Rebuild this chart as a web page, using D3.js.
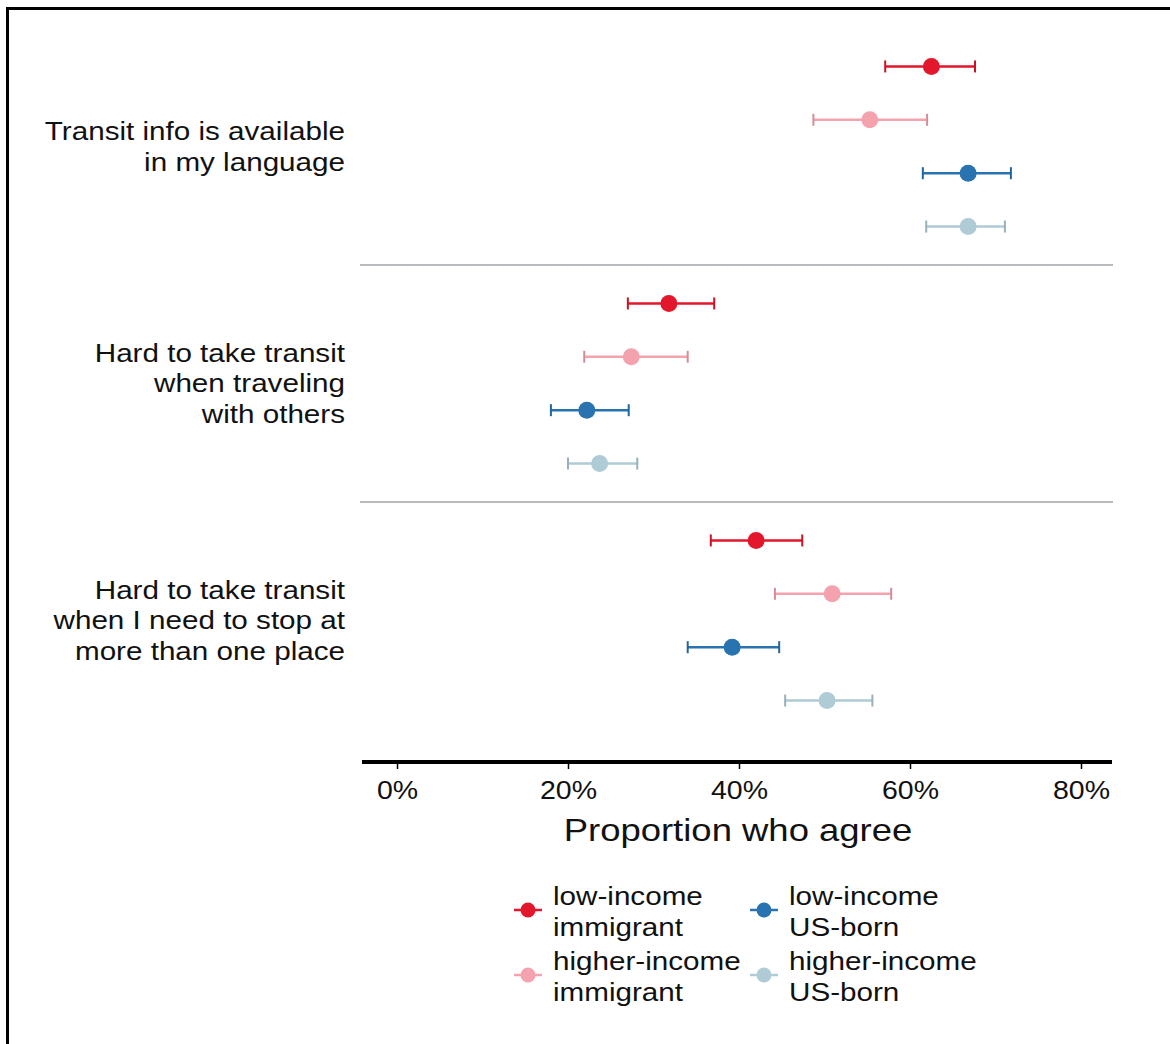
<!DOCTYPE html>
<html><head><meta charset="utf-8">
<script src="https://cdn.jsdelivr.net/npm/d3@7"></script>
<style>html,body{margin:0;padding:0;background:#fff;}svg{display:block;}</style>
</head><body>
<svg id="chart" width="1170" height="1044"></svg>
<script>
const questions = [
  ["Transit info is available", "in my language"],
  ["Hard to take transit", "when traveling", "with others"],
  ["Hard to take transit", "when I need to stop at", "more than one place"]
];
const groups = ["low-income immigrant", "higher-income immigrant", "low-income US-born", "higher-income US-born"];
const groupLabels = [["low-income","immigrant"],["higher-income","immigrant"],["low-income","US-born"],["higher-income","US-born"]];
const colors = ["#e3172b", "#f4a3ae", "#2873b0", "#aecbd6"];
// estimates (%) per question, per group
const estimate = [
  [62.5, 55.3, 66.8, 66.8],
  [31.8, 27.4, 22.2, 23.7],
  [42.0, 50.9, 39.2, 50.3]
];
const lower = [
  [57.1, 48.7, 61.5, 61.9],
  [27.0, 21.9, 18.0, 20.0],
  [36.7, 44.2, 34.0, 45.4]
];
const upper = [
  [67.6, 62.0, 71.8, 71.1],
  [37.1, 34.0, 27.1, 28.1],
  [47.4, 57.8, 44.7, 55.6]
];
const xTicks = [0, 20, 40, 60, 80];

const svg = d3.select("#chart");
const font = "'Liberation Sans', Arial, Helvetica, sans-serif";
const SX = 1.14; // horizontal stretch of text

function addText(parent, x, y, lines, size, anchor, lh) {
  const g = parent.append("g").attr("transform", `translate(${x},${y}) scale(${SX},1)`);
  const t = g.append("text").attr("text-anchor", anchor)
    .attr("font-family", font).attr("font-size", size).attr("fill", "#111");
  lines.forEach((line, li) => {
    t.append("tspan").attr("x", 0).attr("y", li * lh).text(line);
  });
  return g;
}

// frame
svg.append("rect").attr("x", 7.5).attr("y", 8.5).attr("width", 1200).attr("height", 1100)
  .attr("fill", "none").attr("stroke", "#000").attr("stroke-width", 3);

const x = d3.scaleLinear().domain([0, 80]).range([397, 1081]);
const qBand = d3.scaleBand().domain(d3.range(questions.length)).range([28, 739]).paddingInner(0);
const gPos = d3.scalePoint().domain(d3.range(groups.length)).range([0, qBand.bandwidth()]).padding(0.72);

// separators
for (let i = 1; i < questions.length; i++) {
  svg.append("line").attr("x1", 360).attr("x2", 1113)
    .attr("y1", qBand(i)).attr("y2", qBand(i))
    .attr("stroke", "#a0a4a8").attr("stroke-width", 1.5);
}

questions.forEach((q, qi) => {
  const g = svg.append("g").attr("transform", `translate(0,${qBand(qi)})`);
  const cy = (gPos(0) + gPos(groups.length - 1)) / 2;
  const lh = 31;
  addText(g, 345, cy - (q.length - 1) / 2 * lh + 9, q, 26, "end", lh);
  groups.forEach((grp, gi) => {
    const y = gPos(gi);
    const c = colors[gi];
    g.append("line").attr("x1", x(lower[qi][gi])).attr("x2", x(upper[qi][gi]))
      .attr("y1", y).attr("y2", y).attr("stroke", c).attr("stroke-width", 2.5);
    [lower[qi][gi], upper[qi][gi]].forEach(v => {
      g.append("line").attr("x1", x(v)).attr("x2", x(v)).attr("y1", y - 6).attr("y2", y + 6)
        .attr("stroke", d3.color(c).darker(0.4)).attr("stroke-width", 2);
    });
    g.append("circle").attr("cx", x(estimate[qi][gi])).attr("cy", y).attr("r", 8.5).attr("fill", c);
  });
});

// x axis
const axisY = 762;
const axis = svg.append("g").attr("transform", `translate(0,${axisY})`)
  .call(d3.axisBottom(x).tickValues(xTicks).tickFormat(d => d + "%").tickSize(7).tickSizeOuter(0));
axis.select(".domain").remove();
axis.selectAll(".tick line").attr("stroke", "#000").attr("stroke-width", 1.5);
axis.selectAll(".tick text")
  .attr("font-family", font).attr("font-size", 25).attr("fill", "#111")
  .attr("y", 0).attr("dy", 0)
  .attr("transform", `translate(0,37) scale(${SX},1)`);
svg.append("line").attr("x1", 362).attr("x2", 1112).attr("y1", axisY).attr("y2", axisY)
  .attr("stroke", "#000").attr("stroke-width", 4);
addText(svg, 738, 841, ["Proportion who agree"], 32, "middle", 0);

// legend
const legPos = [[528, 910], [528, 975], [764, 910], [764, 975]];
groups.forEach((grp, gi) => {
  const [lx, ly] = legPos[gi];
  const lg = svg.append("g");
  lg.append("line").attr("x1", lx - 14).attr("x2", lx + 14).attr("y1", ly).attr("y2", ly)
    .attr("stroke", colors[gi]).attr("stroke-width", 2.5);
  lg.append("circle").attr("cx", lx).attr("cy", ly).attr("r", 7.5).attr("fill", colors[gi]);
  addText(lg, lx + 25, ly - 5, groupLabels[gi], 26, "start", 31);
});
</script>
</body></html>
